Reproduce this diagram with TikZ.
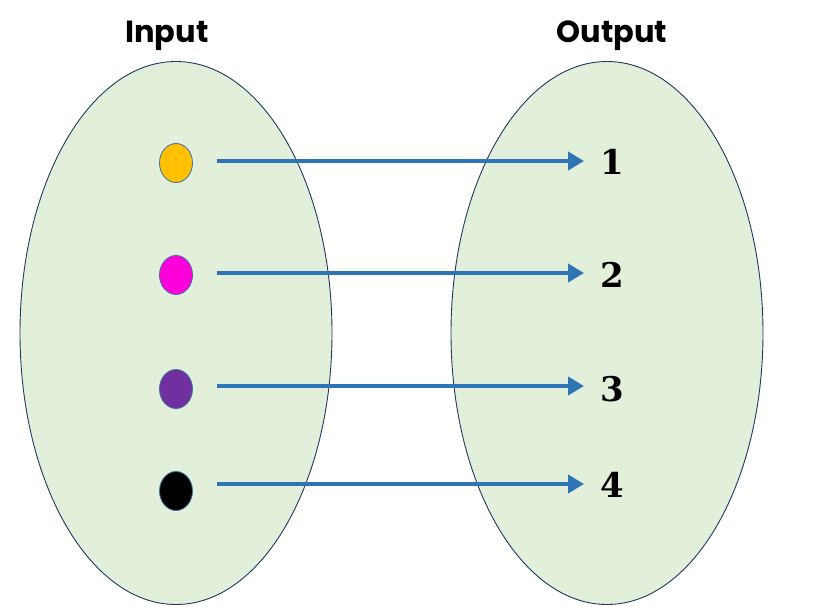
\documentclass[tikz,border=0pt]{standalone}
\usepackage{fontspec}
\newfontfamily\titlefont{Poppins}
\newfontfamily\numfont{DejaVu Serif}
\usetikzlibrary{shapes.geometric,arrows.meta}
\definecolor{setfill}{HTML}{E2EFDA}
\definecolor{setline}{HTML}{1F3864}
\definecolor{dotline}{HTML}{41719C}
\definecolor{arrblue}{HTML}{2E75B6}
\definecolor{cyellow}{HTML}{FFC000}
\definecolor{cmagenta}{HTML}{FF00DD}
\definecolor{cpurple}{HTML}{7030A0}
\tikzset{
  setshape/.style={ellipse, draw=setline, fill=setfill, line width=0.9pt, minimum width=312pt, minimum height=543pt, inner sep=0pt},
  dotshape/.style={ellipse, draw=dotline, line width=0.8pt, minimum width=33pt, minimum height=39pt, inner sep=0pt},
  arr/.style={draw=arrblue, line width=4.8pt, -{Triangle[length=16pt,width=18pt]}},
  numlabel/.style={font=\numfont\bfseries\fontsize{34}{34}\selectfont, inner sep=0pt},
  titlelabel/.style={font=\titlefont\bfseries\fontsize{30.5}{30.5}\selectfont, inner sep=0pt}
}
\begin{document}
\begin{tikzpicture}[x=1pt,y=-1pt]
\useasboundingbox (0,0) rectangle (814,607);
\node[setshape] (inset) at (176,333) {};
\node[setshape] (outset) at (607,333) {};
\node[titlelabel, anchor=base] (tin) at (167,43) {Input};
\node[titlelabel, anchor=base] (tout) at (612,43) {Output};
\node[dotshape, fill=cyellow] (d1) at (176,163) {};
\node[dotshape, fill=cmagenta] (d2) at (176,275) {};
\node[dotshape, fill=cpurple] (d3) at (176,389) {};
\node[dotshape, fill=black] (d4) at (176,491) {};
\node[numlabel] (l1) at (612,162) {1};
\node[numlabel] (l2) at (612,275) {2};
\node[numlabel] (l3) at (612,389) {3};
\node[numlabel] (l4) at (612,485) {4};
\coordinate (s1) at (217,161); \coordinate (a1) at (584,161);
\coordinate (s2) at (217,273); \coordinate (a2) at (584,273);
\coordinate (s3) at (217,386); \coordinate (a3) at (584,386);
\coordinate (s4) at (217,484); \coordinate (a4) at (584,484);
\draw[arr] (s1) -- (a1);
\draw[arr] (s2) -- (a2);
\draw[arr] (s3) -- (a3);
\draw[arr] (s4) -- (a4);
\end{tikzpicture}
\end{document}
